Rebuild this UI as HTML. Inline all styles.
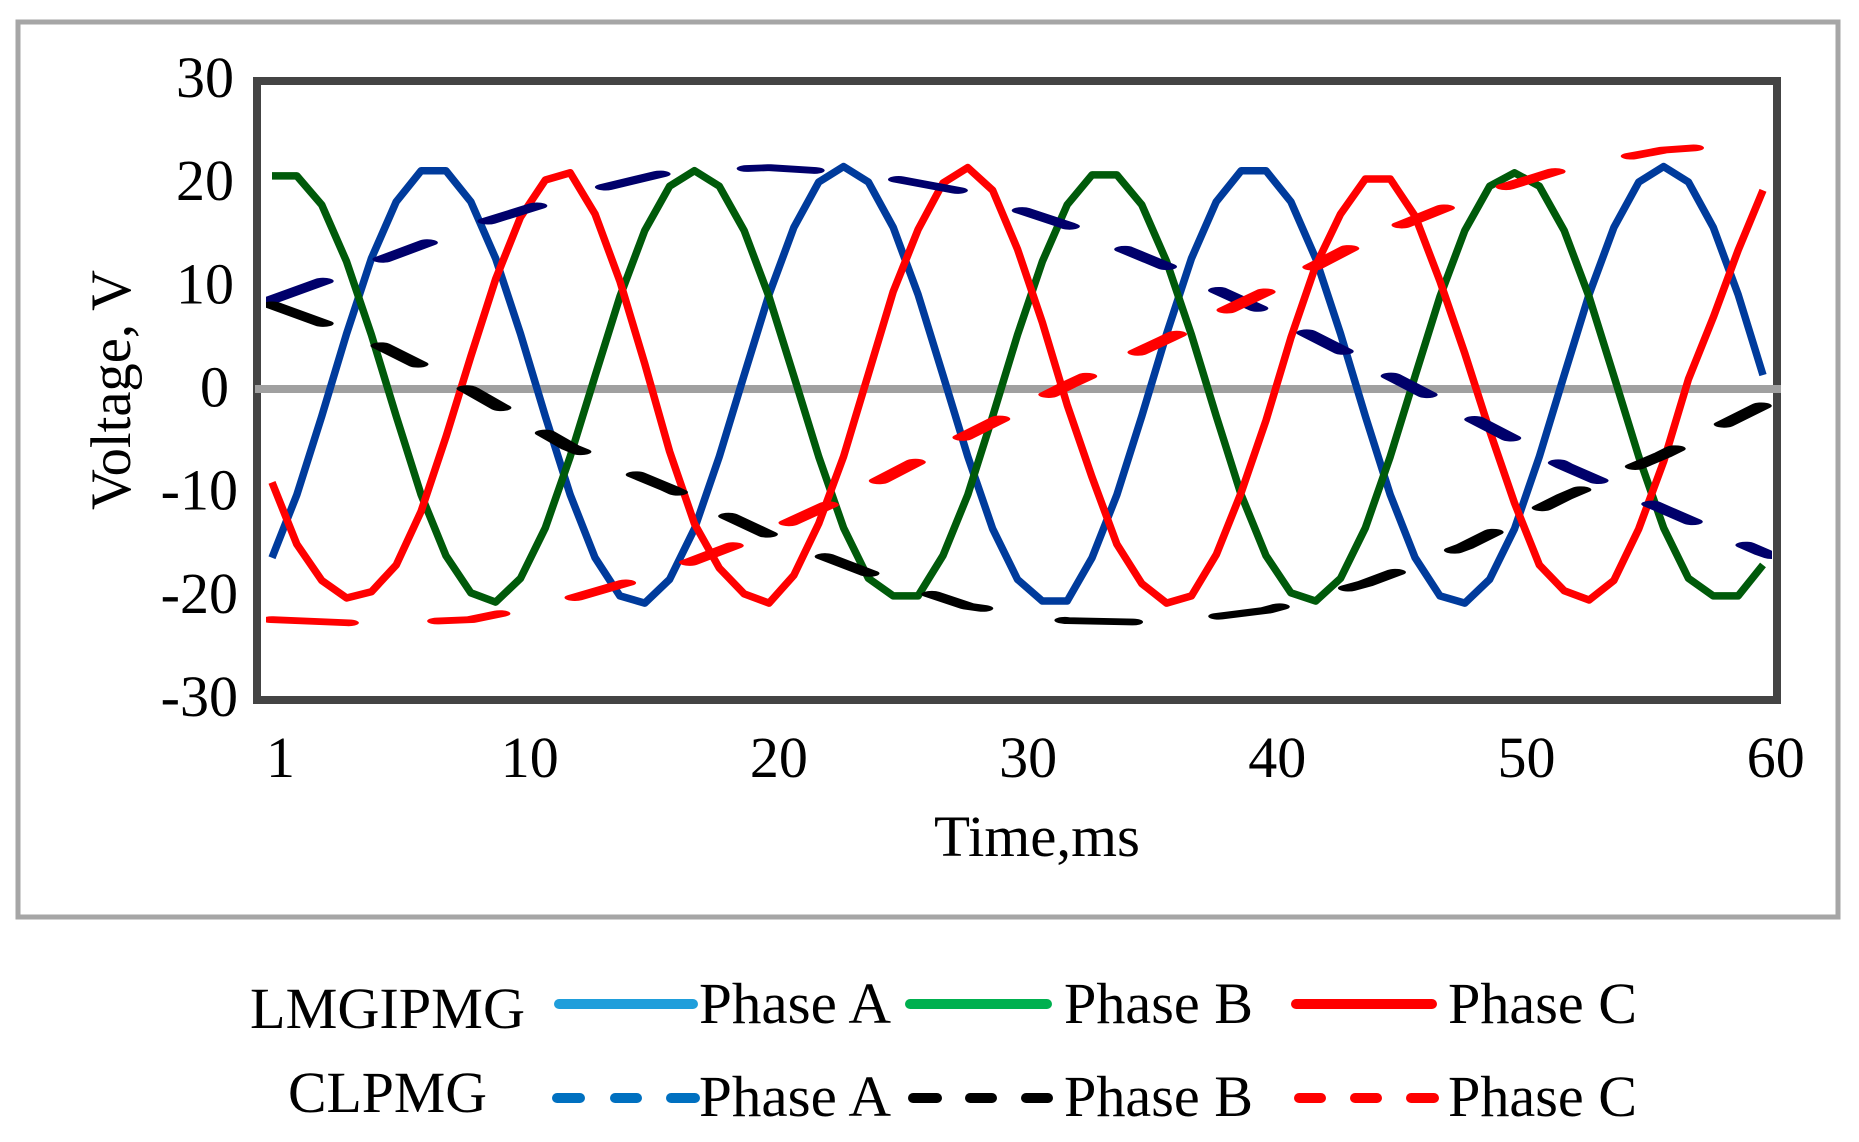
<!DOCTYPE html>
<html lang="en">
<head>
<meta charset="utf-8">
<title>Voltage vs Time: LMGIPMG and CLPMG</title>
<style>
html,body{margin:0;padding:0;background:#fff;}
svg{display:block;}
text{font-family:"Liberation Serif","Times New Roman",serif;fill:#000;}
</style>
</head>
<body>
<svg id="chart" xmlns="http://www.w3.org/2000/svg" width="1859" height="1142" viewBox="0 0 1859 1142">
  <defs>
    <clipPath id="plot-clip"><rect x="266" y="85" width="1506" height="611"/></clipPath>
  </defs>
  <rect x="0" y="0" width="1859" height="1142" fill="#fff"/>
  <rect x="18" y="22" width="1820" height="895" fill="#fff" stroke="#a6a6a6" stroke-width="5"/>
  <rect x="257" y="81" width="1520" height="619" fill="#fff" stroke="#444" stroke-width="8"/>
  <rect x="255" y="385" width="1526" height="8" fill="#a0a0a0"/>
  <g id="series-layer" clip-path="url(#plot-clip)"></g>
  <g id="y-ticks"></g>
  <g id="x-ticks"></g>
  <text x="1037" y="856" font-size="58" text-anchor="middle" textLength="206" lengthAdjust="spacingAndGlyphs">Time,ms</text>
  <text transform="translate(130,390) rotate(-90)" font-size="57" text-anchor="middle" textLength="240" lengthAdjust="spacingAndGlyphs">Voltage, V</text>

  <g>
    <text x="250" y="1028" font-size="58" textLength="275" lengthAdjust="spacingAndGlyphs">LMGIPMG</text>
    <text x="288" y="1112" font-size="58" textLength="199" lengthAdjust="spacingAndGlyphs">CLPMG</text>

    <line x1="559" y1="1004" x2="693" y2="1004" stroke="#1f9edb" stroke-width="10" stroke-linecap="round"/>
    <text x="699" y="1023" font-size="58" textLength="192" lengthAdjust="spacingAndGlyphs">Phase A</text>
    <line x1="910" y1="1004" x2="1047" y2="1004" stroke="#00b04f" stroke-width="10" stroke-linecap="round"/>
    <text x="1064" y="1023" font-size="58" textLength="189" lengthAdjust="spacingAndGlyphs">Phase B</text>
    <line x1="1296" y1="1004" x2="1432" y2="1004" stroke="#ff0000" stroke-width="10" stroke-linecap="round"/>
    <text x="1448" y="1023" font-size="58" textLength="189" lengthAdjust="spacingAndGlyphs">Phase C</text>

    <g stroke="#0070c0" stroke-width="10" stroke-linecap="round">
      <line x1="557" y1="1098" x2="580" y2="1098"/><line x1="615" y1="1098" x2="637" y2="1098"/><line x1="671" y1="1098" x2="695" y2="1098"/>
    </g>
    <text x="699" y="1116" font-size="58" textLength="192" lengthAdjust="spacingAndGlyphs">Phase A</text>
    <g stroke="#000" stroke-width="10" stroke-linecap="round">
      <line x1="913" y1="1098" x2="937" y2="1098"/><line x1="970" y1="1098" x2="992" y2="1098"/><line x1="1026" y1="1098" x2="1048" y2="1098"/>
    </g>
    <text x="1064" y="1116" font-size="58" textLength="189" lengthAdjust="spacingAndGlyphs">Phase B</text>
    <g stroke="#ff0000" stroke-width="10" stroke-linecap="round">
      <line x1="1299" y1="1098" x2="1321" y2="1098"/><line x1="1355" y1="1098" x2="1377" y2="1098"/><line x1="1411" y1="1098" x2="1434" y2="1098"/>
    </g>
    <text x="1448" y="1116" font-size="58" textLength="189" lengthAdjust="spacingAndGlyphs">Phase C</text>
  </g>
</svg>

<script>
var xTickTimes = [0, 10, 20, 30, 40, 50, 60];
var xTickLabels = ["1", "10", "20", "30", "40", "50", "60"];
var yTickValues = [30, 20, 10, 0, -10, -20, -30];
var yTickLabels = ["30", "20", "10", "0", "-10", "-20", "-30"];

var lmgipmgPhaseA = [-16.3,-10.2,-2.6,5.4,12.7,18.2,21.2,21.2,18.2,12.7,5.4,-2.6,-10.2,-16.3,-20,-20.7,-18.4,-13.5,-6.5,1.4,9.2,15.7,20.1,21.6,20.1,15.7,9.2,1.4,-6.5,-13.5,-18.4,-20.5,-20.5,-16.3,-10.2,-2.6,5.4,12.7,18.2,21.2,21.2,18.2,12.7,5.4,-2.6,-10.2,-16.3,-20,-20.7,-18.4,-13.5,-6.5,1.4,9.2,15.7,20.1,21.6,20.1,15.7,9.2,1.4];
var lmgipmgPhaseB = [20.7,20.7,17.9,12.4,5.3,-2.6,-10.2,-16.1,-19.7,-20.6,-18.3,-13.4,-6.5,1.3,9,15.4,19.7,21.2,19.7,15.4,9,1.3,-6.5,-13.4,-18.3,-20,-20,-16.1,-10.2,-2.6,5.3,12.4,17.9,20.8,20.8,17.9,12.4,5.3,-2.6,-10.2,-16.1,-19.7,-20.5,-18.3,-13.4,-6.5,1.3,9,15.4,19.7,21,19.7,15.4,9,1.3,-6.5,-13.4,-18.3,-20,-20,-17];
var lmgipmgPhaseC = [-9,-15,-18.5,-20.2,-19.6,-17,-11.8,-4.6,3.2,10.7,16.7,20.3,21,17,10.5,2.5,-6,-13,-17.3,-19.8,-20.7,-18,-13,-6.5,1.5,9.5,15.5,20,21.5,19.3,13.6,6.5,-1.5,-8.5,-15,-18.8,-20.7,-20,-16,-10,-3,5,12,17,20.4,20.4,16.8,10.5,3.5,-4,-11,-17,-19.5,-20.4,-18.5,-13.5,-7,1,7,13.5,19.3];

var clpmgTimes = [0,4,8,12,16,20,24,28,32,36,40,44,48,52,56,60,60.36];
var clpmgPhaseA = [8.7,12.2,15.8,18.8,21.1,21.5,20.9,19.1,15.9,11.9,7.5,2.6,-2.4,-7.4,-11.6,-15.8,-16.1];
var clpmgPhaseB = [8.2,4.7,-0.1,-5.6,-9.6,-14.1,-17.8,-21,-22.4,-22.6,-21.4,-18.8,-15.2,-10.4,-6.3,-1.5,-1.1];
var clpmgPhaseC = [-22.3,-22.7,-22.3,-20.3,-17.5,-13.8,-9.4,-4.4,0.4,4.9,9.5,14.5,18.4,21.4,23.2,23.9,24];

var SVGNS = "http://www.w3.org/2000/svg";
var Y_STRETCH = 3.09;

function xScale(t) { return 272 + 24.85 * t; }
function yScale(v) { return 389.5 - 10.32 * v; }
function xTickPos(t) { return 280.5 + 24.92 * t; }

var seriesLayer = document.getElementById("series-layer");
var yTicksLayer = document.getElementById("y-ticks");
var xTicksLayer = document.getElementById("x-ticks");

function makePath(points, color, width) {
  var p = document.createElementNS(SVGNS, "path");
  var d = "";
  for (var i = 0; i < points.length; i++) {
    d += (i ? "L" : "M") + points[i][0].toFixed(2) + " " + points[i][1].toFixed(2);
  }
  p.setAttribute("d", d);
  p.setAttribute("fill", "none");
  p.setAttribute("stroke", color);
  p.setAttribute("stroke-width", width);
  p.setAttribute("stroke-linejoin", "round");
  return p;
}

function solidPoints(values) {
  var pts = [];
  for (var i = 0; i < values.length; i++) {
    pts.push([xScale(i), yScale(values[i])]);
  }
  return pts;
}

/* Dashes of the original were drawn in a vertically stretched space, then squashed. */
function dashedRuns(times, values) {
  var dashLen = 68, gapLen = 90, firstDash = 77;
  var runs = [], current = [], on = true, left = firstDash;
  var px = xScale(times[0]), py = yScale(values[0]) * Y_STRETCH;
  current.push([px, py]);
  for (var i = 1; i < times.length; i++) {
    var qx = xScale(times[i]), qy = yScale(values[i]) * Y_STRETCH;
    var segLen = Math.sqrt(Math.pow(qx - px, 2) + Math.pow(qy - py, 2));
    var walked = 0;
    while (segLen - walked > left) {
      walked += left;
      var f = walked / segLen;
      var cx = px + (qx - px) * f, cy = py + (qy - py) * f;
      if (on) {
        current.push([cx, cy]);
        runs.push(current);
        current = [];
      } else {
        current = [[cx, cy]];
      }
      on = !on;
      left = on ? dashLen : gapLen;
    }
    left -= segLen - walked;
    if (on) { current.push([qx, qy]); }
    px = qx;
    py = qy;
  }
  if (on && current.length > 1) { runs.push(current); }
  return runs;
}

var lineA = makePath(solidPoints(lmgipmgPhaseA), "#003b9c", 7.5);


seriesLayer.appendChild(lineA);

var lineB = makePath(solidPoints(lmgipmgPhaseB), "#005a0a", 7.5);


seriesLayer.appendChild(lineB);

var lineC = makePath(solidPoints(lmgipmgPhaseC), "#ff0000", 7.5);


seriesLayer.appendChild(lineC);

function drawDashed(values, color, groupName) {
  var g = document.createElementNS(SVGNS, "g");
  
  
  g.setAttribute("transform", "scale(1," + (1 / Y_STRETCH) + ")");
  var runs = dashedRuns(clpmgTimes, values);
  for (var i = 0; i < runs.length; i++) {
    var dash = makePath(runs[i], color, 21);
    dash.setAttribute("stroke-linecap", "round");
    
    
    g.appendChild(dash);
  }
  seriesLayer.appendChild(g);
}

drawDashed(clpmgPhaseA, "#00006b", "line-clpmg-phase-a");
drawDashed(clpmgPhaseB, "#000000", "line-clpmg-phase-b");
drawDashed(clpmgPhaseC, "#ff0000", "line-clpmg-phase-c");

for (var yi = 0; yi < yTickValues.length; yi++) {
  var yLabel = document.createElementNS(SVGNS, "text");
  var tickValue = yTickValues[yi];
  var rightEdge = tickValue < 0 ? 238 : (tickValue === 0 ? 229 : 234);
  yLabel.setAttribute("x", rightEdge);
  yLabel.setAttribute("y", (yScale(tickValue) + 17).toFixed(1));
  yLabel.setAttribute("font-size", "58");
  yLabel.setAttribute("text-anchor", "end");
  yLabel.textContent = yTickLabels[yi];
  
  
  yTicksLayer.appendChild(yLabel);
}

for (var xi = 0; xi < xTickTimes.length; xi++) {
  var xLabel = document.createElementNS(SVGNS, "text");
  xLabel.setAttribute("x", xTickPos(xTickTimes[xi]).toFixed(1));
  xLabel.setAttribute("y", 777);
  xLabel.setAttribute("font-size", "58");
  xLabel.setAttribute("text-anchor", "middle");
  xLabel.textContent = xTickLabels[xi];
  
  
  xTicksLayer.appendChild(xLabel);
}
</script>
</body>
</html>
